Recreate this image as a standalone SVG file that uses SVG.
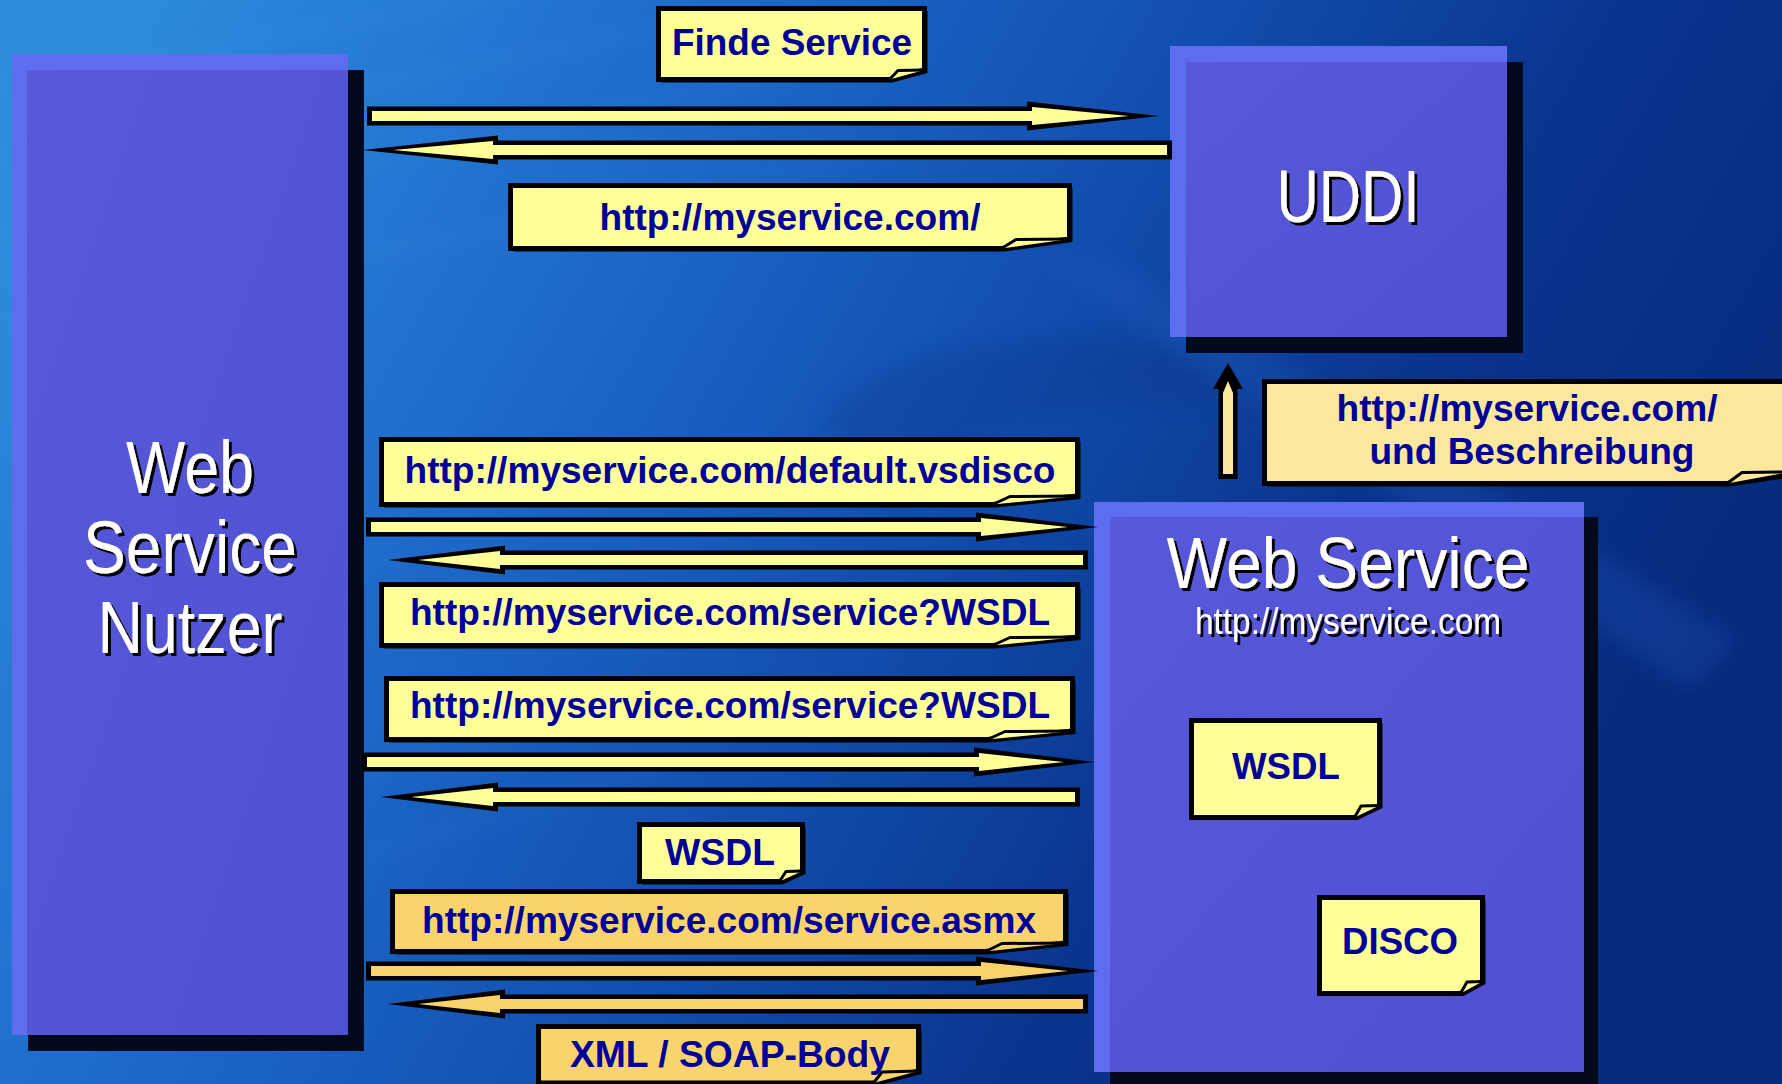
<svg xmlns="http://www.w3.org/2000/svg" width="1782" height="1084" viewBox="0 0 1782 1084">
  <defs>
    <linearGradient id="bg" x1="0" y1="0.2" x2="1" y2="0.55">
      <stop offset="0" stop-color="#2d8bdc"/>
      <stop offset="0.3" stop-color="#1d6acb"/>
      <stop offset="0.55" stop-color="#114eae"/>
      <stop offset="0.75" stop-color="#0a358e"/>
      <stop offset="1" stop-color="#06297b"/>
    </linearGradient>
    <linearGradient id="body" x1="0" y1="0" x2="1" y2="1">
      <stop offset="0" stop-color="#5859da"/>
      <stop offset="1" stop-color="#5050d2"/>
    </linearGradient>
    <filter id="txtShadow" x="-10%" y="-10%" width="130%" height="140%">
      <feDropShadow dx="3" dy="3" stdDeviation="0" flood-color="#000" flood-opacity="1"/>
    </filter>
    <filter id="soft" x="-20%" y="-20%" width="140%" height="140%">
      <feGaussianBlur stdDeviation="10"/>
    </filter>
  </defs>
  <style>
    .shadow { fill: #030a1e; }
    .band { fill: #5e6cee; }
    .body { fill: url(#body); }
    .ntext { font-family: "Liberation Sans", Arial, sans-serif; fill: #ffffff; text-anchor: middle; filter: url(#txtShadow); }
    .note { stroke: #000; stroke-width: 5; stroke-linejoin: miter; }
    .noteShadow { fill: #000; }
    .yel { fill: #ffff99; }
    .org { fill: #f9d36b; }
    .beige { fill: #fbe89c; }
    .curl { stroke: #000; stroke-width: 3; stroke-linejoin: round; }
    .ltext { font-family: "Liberation Sans", Arial, sans-serif; font-weight: bold; font-size: 37px; fill: #000099; text-anchor: middle; }
    .aout { fill: #000; }
    .ayel { fill: #ffff99; }
    .aorg { fill: #f9d26a; }
    .streak { fill: none; stroke: #8fcbff; stroke-width: 6; }
  </style>

  <!-- backdrop with faint diagonal streaks and a dark swoosh -->
  <rect x="0" y="0" width="1782" height="1084" fill="url(#bg)"/>
  <g opacity="0.10" filter="url(#soft)">
    <path class="streak" d="M -20 90 L 640 -30"/>
    <path class="streak" d="M -20 160 L 760 10"/>
    <path class="streak" d="M -20 240 L 860 60"/>
    <path class="streak" d="M -20 330 L 900 150"/>
    <path class="streak" d="M -20 880 L 620 700"/>
    <path class="streak" d="M -20 960 L 660 770"/>
  </g>
  <g opacity="0.22" filter="url(#soft)">
    <path d="M 820 420 C 880 340 1020 330 1200 340 L 1220 400 C 1060 400 960 420 900 520 Z" fill="#0a2f80"/>
    <path d="M 1040 260 L 1110 260 L 1740 640 L 1690 690 Z" fill="#2a64c8"/>
  </g>

  <!-- nodes -->
  <g id="node-nutzer">
    <rect class="shadow" x="28" y="70" width="336" height="981"/>
    <rect class="band" x="12" y="54" width="336" height="981"/>
    <rect class="body" x="27" y="70" width="321" height="965"/>
    <text class="ntext" font-size="74" x="190" y="493" textLength="128" lengthAdjust="spacingAndGlyphs">Web</text>
    <text class="ntext" font-size="74" x="190" y="573" textLength="214" lengthAdjust="spacingAndGlyphs">Service</text>
    <text class="ntext" font-size="74" x="190" y="653" textLength="185" lengthAdjust="spacingAndGlyphs">Nutzer</text>
  </g>

  <g id="node-uddi">
    <rect class="shadow" x="1186" y="62" width="337" height="291"/>
    <rect class="band" x="1170" y="46" width="337" height="291"/>
    <rect class="body" x="1186" y="62" width="321" height="275"/>
    <text class="ntext" font-size="74" x="1348" y="222" textLength="143" lengthAdjust="spacingAndGlyphs">UDDI</text>
  </g>

  <g id="node-webservice">
    <rect class="shadow" x="1110" y="517" width="488" height="580"/>
    <rect class="band" x="1094" y="502" width="490" height="570"/>
    <rect class="body" x="1110" y="517" width="474" height="555"/>
    <text class="ntext" font-size="73" x="1348" y="588" textLength="363" lengthAdjust="spacingAndGlyphs">Web Service</text>
    <text class="ntext" font-size="36" x="1348" y="634" textLength="306" lengthAdjust="spacingAndGlyphs">http://myservice.com</text>
  </g>

  <!-- document notes inside the web service -->
  <g id="doc-wsdl">
    <polygon class="noteShadow" points="1194.5,723.5 1382.5,723.5 1382.5,808 1357.5,820 1194.5,820"/>
    <polygon class="note yel" points="1191.5,720.5 1379.5,720.5 1379.5,805.5 1354.5,817.5 1191.5,817.5"/>
    <polyline class="curl yel" points="1354.5,817.5 1361,806 1379.5,805.5"/>
    <text class="ltext" x="1286" y="779" textLength="108" lengthAdjust="spacingAndGlyphs">WSDL</text>
  </g>
  <g id="doc-disco">
    <polygon class="noteShadow" points="1322.5,900.5 1485.5,900.5 1485.5,984 1463.5,996 1322.5,996"/>
    <polygon class="note yel" points="1319.5,897.5 1482.5,897.5 1482.5,981.5 1460.5,993.5 1319.5,993.5"/>
    <polyline class="curl yel" points="1460.5,993.5 1467,982 1482.5,981.5"/>
    <text class="ltext" x="1400" y="954" textLength="116" lengthAdjust="spacingAndGlyphs">DISCO</text>
  </g>

  <!-- connectors -->
  <g id="connectors">
    <!-- find service request / reply -->
    <polygon class="aout" points="367,106.5 1027,106.5 1027,101.5 1159,116 1027,130.5 1027,125.5 367,125.5"/>
    <polygon class="ayel" points="372,111 1032,111 1032,107 1129,116 1032,125 1032,121 372,121"/>
    <polygon class="aout" points="363,150 498,135.5 498,140.5 1172,140.5 1172,159.5 498,159.5 498,164.5"/>
    <polygon class="ayel" points="393,150 493,141 493,145 1167,145 1167,155 493,155 493,159"/>

    <!-- discovery -->
    <polygon class="aout" points="366,517.5 976,517.5 976,512.5 1098,527 976,541.5 976,536.5 366,536.5"/>
    <polygon class="ayel" points="371,522 981,522 981,518 1068,527 981,536 981,532 371,532"/>
    <polygon class="aout" points="388,560 505,545.5 505,550.5 1088,550.5 1088,569.5 505,569.5 505,574.5"/>
    <polygon class="ayel" points="418,560 500,551 500,555 1083,555 1083,565 500,565 500,569"/>

    <!-- description -->
    <polygon class="aout" points="362,752.5 974,752.5 974,747.5 1094,762 974,776.5 974,771.5 362,771.5"/>
    <polygon class="ayel" points="367,757 979,757 979,753 1064,762 979,771 979,767 367,767"/>
    <polygon class="aout" points="381,797 498,782.5 498,787.5 1080,787.5 1080,806.5 498,806.5 498,811.5"/>
    <polygon class="ayel" points="411,797 493,788 493,792 1075,792 1075,802 493,802 493,806"/>

    <!-- invocation -->
    <polygon class="aout" points="366,961.5 976,961.5 976,956.5 1098,971 976,985.5 976,980.5 366,980.5"/>
    <polygon class="aorg" points="371,966 981,966 981,962 1068,971 981,980 981,976 371,976"/>
    <polygon class="aout" points="388,1004 505,989.5 505,994.5 1088,994.5 1088,1013.5 505,1013.5 505,1018.5"/>
    <polygon class="aorg" points="418,1004 500,995 500,999 1083,999 1083,1009 500,1009 500,1013"/>

    <!-- publish to UDDI -->
    <polygon class="aout" points="1228,363 1243,389 1237.5,389 1237.5,479 1218.5,479 1218.5,389 1213,389"/>
    <polygon class="beige" points="1228,381 1233,393 1233,474 1223,474 1223,393"/>
  </g>

  <!-- message labels -->
  <g id="label-finde">
    <polygon class="noteShadow" points="661.5,11.5 927.5,11.5 927.5,73 892.5,82.5 661.5,82.5"/>
    <polygon class="note yel" points="658.5,8.5 924.5,8.5 924.5,70 889.5,79.5 658.5,79.5"/>
    <polyline class="curl yel" points="889.5,79.5 898,70.5 924.5,70"/>
    <text class="ltext" x="792" y="55" textLength="240" lengthAdjust="spacingAndGlyphs">Finde Service</text>
  </g>
  <g id="label-url">
    <polygon class="noteShadow" points="513.5,188.5 1072.5,188.5 1072.5,242 1004.5,251.5 513.5,251.5"/>
    <polygon class="note yel" points="510.5,185.5 1069.5,185.5 1069.5,239 1001.5,248.5 510.5,248.5"/>
    <polyline class="curl yel" points="1001.5,248.5 1016,239.5 1069.5,239"/>
    <text class="ltext" x="790" y="230" textLength="381" lengthAdjust="spacingAndGlyphs">http://myservice.com/</text>
  </g>
  <g id="label-vsdisco">
    <polygon class="noteShadow" points="384.5,442.5 1080.5,442.5 1080.5,499 995.5,507.5 384.5,507.5"/>
    <polygon class="note yel" points="381.5,439.5 1077.5,439.5 1077.5,496 992.5,504.5 381.5,504.5"/>
    <polyline class="curl yel" points="992.5,504.5 1010,496.5 1077.5,496"/>
    <text class="ltext" x="730" y="483" textLength="651" lengthAdjust="spacingAndGlyphs">http://myservice.com/default.vsdisco</text>
  </g>
  <g id="label-wsdl-reply">
    <polygon class="noteShadow" points="384.5,587.5 1080.5,587.5 1080.5,640 995.5,648.5 384.5,648.5"/>
    <polygon class="note yel" points="381.5,584.5 1077.5,584.5 1077.5,637 992.5,645.5 381.5,645.5"/>
    <polyline class="curl yel" points="992.5,645.5 1010,637.5 1077.5,637"/>
    <text class="ltext" x="730" y="625" textLength="640" lengthAdjust="spacingAndGlyphs">http://myservice.com/service?WSDL</text>
  </g>
  <g id="label-wsdl-request">
    <polygon class="noteShadow" points="389.5,681.5 1075.5,681.5 1075.5,734 990.5,742.5 389.5,742.5"/>
    <polygon class="note yel" points="386.5,678.5 1072.5,678.5 1072.5,731 987.5,739.5 386.5,739.5"/>
    <polyline class="curl yel" points="987.5,739.5 1005,731.5 1072.5,731"/>
    <text class="ltext" x="730" y="718" textLength="640" lengthAdjust="spacingAndGlyphs">http://myservice.com/service?WSDL</text>
  </g>
  <g id="label-wsdl">
    <polygon class="noteShadow" points="642.5,827.5 805.5,827.5 805.5,874 782.5,884.5 642.5,884.5"/>
    <polygon class="note yel" points="639.5,824.5 802.5,824.5 802.5,871 779.5,881.5 639.5,881.5"/>
    <polyline class="curl yel" points="779.5,881.5 786,871.5 802.5,871"/>
    <text class="ltext" x="720" y="865" textLength="110" lengthAdjust="spacingAndGlyphs">WSDL</text>
  </g>
  <g id="label-asmx">
    <polygon class="noteShadow" points="395.5,894.5 1068.5,894.5 1068.5,946 988.5,954.5 395.5,954.5"/>
    <polygon class="note org" points="392.5,891.5 1065.5,891.5 1065.5,943 985.5,951.5 392.5,951.5"/>
    <polyline class="curl org" points="985.5,951.5 1002,943.5 1065.5,943"/>
    <text class="ltext" x="729" y="933" textLength="614" lengthAdjust="spacingAndGlyphs">http://myservice.com/service.asmx</text>
  </g>
  <g id="label-soap">
    <polygon class="noteShadow" points="541.5,1029.5 921.5,1029.5 921.5,1074 876.5,1086 541.5,1086"/>
    <polygon class="note org" points="538.5,1026.5 918.5,1026.5 918.5,1071 873.5,1083 538.5,1083"/>
    <polyline class="curl org" points="873.5,1083 882,1072 918.5,1071"/>
    <text class="ltext" x="730" y="1067" textLength="320" lengthAdjust="spacingAndGlyphs">XML / SOAP-Body</text>
  </g>
  <g id="label-publish">
    <polygon class="noteShadow" points="1267.5,384.5 1800,384.5 1800,476 1730,486.5 1267.5,486.5"/>
    <polygon class="note beige" points="1264.5,381.5 1800,381.5 1800,473 1727,483.5 1264.5,483.5"/>
    <polyline class="curl beige" points="1727,483.5 1742,472.5 1790,472"/>
    <text class="ltext" x="1527" y="421" textLength="381" lengthAdjust="spacingAndGlyphs">http://myservice.com/</text>
    <text class="ltext" x="1532" y="464" textLength="325" lengthAdjust="spacingAndGlyphs">und Beschreibung</text>
  </g>
</svg>
